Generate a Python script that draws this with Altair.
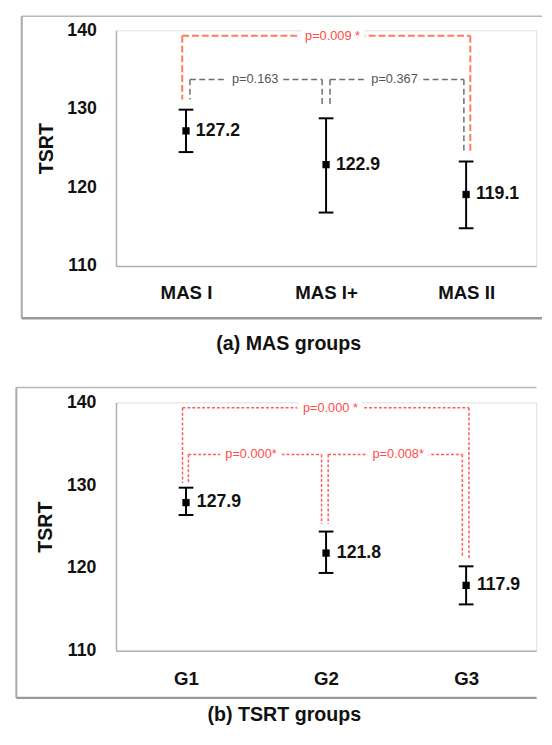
import json
import altair as alt
import pandas as pd

# ---------------- Panel (a): MAS groups ----------------
a_caption = "(a) MAS groups"
a_groups = ["MAS I", "MAS I+", "MAS II"]
a_mean = [127.2, 122.9, 119.1]
a_upper = [129.9, 128.8, 123.3]
a_lower = [124.5, 116.8, 114.8]
a_text = ["127.2", "122.9", "119.1"]

a_br_kind = ["sig", "ns", "ns"]
a_br_label = ["p=0.009 *", "p=0.163", "p=0.367"]
a_br_x1 = [-0.027, 0.028, 1.028]
a_br_x2 = [2.03, 0.972, 1.984]
a_br_y = [139.3, 133.75, 133.75]
a_br_yl = [131.2, 131.2, 130.25]
a_br_yr = [124.3, 130.25, 124.3]
a_br_lx = [1.046, 0.494, 1.489]

# ---------------- Panel (b): TSRT groups ----------------
b_caption = "(b) TSRT groups"
b_groups = ["G1", "G2", "G3"]
b_mean = [127.9, 121.8, 117.9]
b_upper = [129.7, 124.4, 120.2]
b_lower = [126.4, 119.4, 115.6]
b_text = ["127.9", "121.8", "117.9"]

b_br_kind = ["sig", "sig", "sig"]
b_br_label = ["p=0.000 *", "p=0.000*", "p=0.008*"]
b_br_x1 = [-0.025, 0.017, 1.015]
b_br_x2 = [2.02, 0.968, 1.973]
b_br_y = [139.35, 133.7, 133.7]
b_br_yl = [130.25, 130.25, 125.3]
b_br_yr = [121.05, 125.3, 121.4]
b_br_lx = [1.031, 0.464, 1.515]

y_ticks = [110, 120, 130, 140]
FONT = "Liberation Sans"


def panel(groups, mean, upper, lower, text, kinds, labels, x1, x2, by, byl, byr, lx,
          styles, caption, width, height, frame, cap_pos, ypad, xpad, tpad, dx):
    xs = alt.Scale(domain=[-0.5, 2.5], nice=False, zero=False)
    ys = alt.Scale(domain=[110, 140], nice=False, zero=False)
    label_expr = json.dumps(groups) + "[datum.value]"
    xax = alt.Axis(values=[0, 1, 2], labelExpr=label_expr, ticks=False, grid=False,
                   domainColor="#b0b0b0", domainWidth=1.5, labelFontSize=19,
                   labelFontWeight="bold", labelColor="#111", labelFont=FONT,
                   labelPadding=xpad, labelBaseline="middle", title=None)
    yax = alt.Axis(values=y_ticks, ticks=False, grid=False, domainColor="#b0b0b0",
                   domainWidth=1.5, labelFontSize=18, labelFontWeight="bold",
                   labelColor="#111", labelFont=FONT, labelPadding=ypad,
                   title="TSRT", titleFontSize=20, titleFontWeight="bold",
                   titleFont=FONT, titleColor="#111", titlePadding=tpad)

    def X(f):
        return alt.X(f, scale=xs, axis=xax)

    def Y(f):
        return alt.Y(f, scale=ys, axis=yax)

    df = pd.DataFrame({"idx": list(range(len(groups))), "mean": mean,
                       "upper": upper, "lower": lower, "text": text})
    bdf = pd.DataFrame({"kind": kinds, "label": labels, "x1": x1, "x2": x2,
                        "y": by, "yl": byl, "yr": byr, "lx": lx})
    one = pd.DataFrame({"k": [0]})
    L, R, T, B = frame
    fr = alt.Chart(one)
    layers = []
    base = alt.Chart(df)
    layers.append(base.mark_rule(color="black", strokeWidth=2).encode(
        x=X("idx:Q"), y=Y("lower:Q"), y2="upper:Q"))
    layers += [
        fr.mark_rule(color="#b8b8b8", strokeWidth=1.5).encode(
            x=alt.value(L), x2=alt.value(R), y=alt.value(T)),
        fr.mark_rule(color="#a8a8a8", strokeWidth=2).encode(
            x=alt.value(L), y=alt.value(T), y2=alt.value(B)),
        fr.mark_rule(color="#9a9a9a", strokeWidth=2.5).encode(
            x=alt.value(L), x2=alt.value(R), y=alt.value(B)),
    ]
    for kind, (lc, tc, dash, w) in styles.items():
        sub = bdf[bdf["kind"] == kind]
        if len(sub) == 0:
            continue
        bc = alt.Chart(sub)
        rule = dict(color=lc, strokeDash=dash, strokeWidth=w)
        layers += [
            bc.mark_rule(**rule).encode(x=X("x1:Q"), x2="x2:Q", y=Y("y:Q")),
            bc.mark_rule(**rule).encode(x=X("x1:Q"), y=Y("y:Q"), y2="yl:Q"),
            bc.mark_rule(**rule).encode(x=X("x2:Q"), y=Y("y:Q"), y2="yr:Q"),
            bc.mark_text(fontSize=13, font=FONT, fill="white", stroke="white",
                         strokeWidth=9, baseline="middle").encode(
                x=X("lx:Q"), y=Y("y:Q"), text="label:N"),
            bc.mark_text(fontSize=13, font=FONT, color=tc, baseline="middle").encode(
                x=X("lx:Q"), y=Y("y:Q"), text="label:N"),
        ]
    layers += [
        base.mark_rule(color="black", strokeWidth=2, xOffset=-7.5, x2Offset=7.5).encode(
            x=X("idx:Q"), x2="idx:Q", y=Y("upper:Q")),
        base.mark_rule(color="black", strokeWidth=2, xOffset=-7.5, x2Offset=7.5).encode(
            x=X("idx:Q"), x2="idx:Q", y=Y("lower:Q")),
        base.mark_point(shape="square", filled=True, size=55, color="black",
                        opacity=1).encode(x=X("idx:Q"), y=Y("mean:Q")),
        base.mark_text(align="left", baseline="middle", dx=dx, fontSize=18,
                       fontWeight="bold", font=FONT, color="#111").encode(
            x=X("idx:Q"), y=Y("mean:Q"), text="text:N"),
        fr.mark_text(fontSize=20, fontWeight="bold", font=FONT, color="#111",
                     baseline="middle", align="center").encode(
            x=alt.value(cap_pos[0]), y=alt.value(cap_pos[1]),
            text=alt.value(caption)),
    ]
    return alt.layer(*layers).properties(width=width, height=height)


styles_a = {
    "sig": ("#ff7a5c", "#ff4a3d", [7, 3], 2),
    "ns": ("#6e6e6e", "#555555", [6, 3.5], 1.5),
}
styles_b = {
    "sig": ("#ff5a5a", "#ff4d4d", [3, 2], 1.5),
}

pa = panel(a_groups, a_mean, a_upper, a_lower, a_text, a_br_kind, a_br_label,
           a_br_x1, a_br_x2, a_br_y, a_br_yl, a_br_yr, a_br_lx, styles_a,
           a_caption, 428, 240, (-96, 434, -14.4, 293.3), (176, 319.5),
           20, 27, 11, 10)
pb = panel(b_groups, b_mean, b_upper, b_lower, b_text, b_br_kind, b_br_label,
           b_br_x1, b_br_x2, b_br_y, b_br_yl, b_br_yr, b_br_lx, styles_b,
           b_caption, 428, 253, (-101.5, 428.5, -15.2, 301), (171.5, 319),
           20.5, 28, 11, 11)

chart = alt.vconcat(pa, pb, spacing=32).properties(
    padding={"left": 6, "top": 0, "right": 0, "bottom": 0}
).configure_view(strokeWidth=0).configure(font=FONT)

chart.save("out.html", embed_options={"renderer": "svg", "actions": False})
